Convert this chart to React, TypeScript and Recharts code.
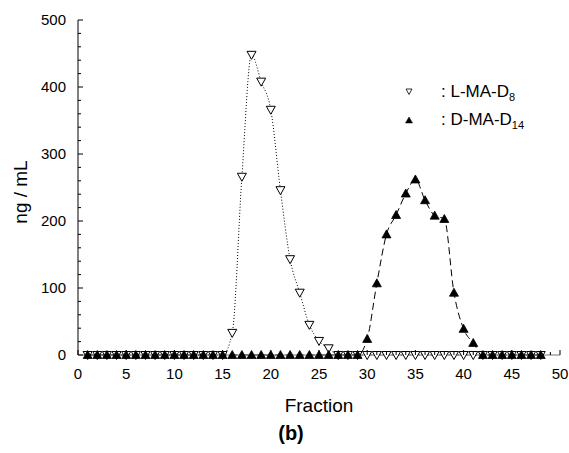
import { LineChart, Line, XAxis, YAxis } from "recharts"

const fractions = [
    1, 2, 3, 4, 5, 6, 7, 8, 9, 10, 11, 12, 13, 14, 15, 16, 17, 18, 19, 20, 21, 22, 23, 24,
    25, 26, 27, 28, 29, 30, 31, 32, 33, 34, 35, 36, 37, 38, 39, 40, 41, 42, 43, 44, 45, 46, 47, 48,
]

// L-MA-D8 (open down triangles, dotted)
const lmaD8 = [
    0, 0, 0, 0, 0, 0, 0, 0, 0, 0, 0, 0, 0, 0, 0,
    33, 266, 448, 408, 366, 246, 143, 93, 45, 21, 10,
    0, 0, 0, 0, 0, 0, 0, 0, 0, 0, 0, 0, 0, 0, 0, 0, 0, 0, 0, 0, 0, 0,
]

// D-MA-D14 (filled up triangles, dashed)
const dmaD14 = [
    0, 0, 0, 0, 0, 0, 0, 0, 0, 0, 0, 0, 0, 0, 0, 0, 0, 0, 0, 0, 0, 0, 0, 0, 0, 0, 0, 0, 0,
    24, 107, 180, 209, 241, 262, 231, 208, 203, 93, 39, 18,
    0, 0, 0, 0, 0, 0, 0,
]

const xTicks = [
    0, 1, 2, 3, 4, 5, 6, 7, 8, 9, 10, 11, 12, 13, 14, 15, 16, 17, 18, 19, 20, 21, 22, 23, 24, 25,
    26, 27, 28, 29, 30, 31, 32, 33, 34, 35, 36, 37, 38, 39, 40, 41, 42, 43, 44, 45, 46, 47, 48, 49, 50,
]
const yTicks = [
    0, 20, 40, 60, 80, 100, 120, 140, 160, 180, 200, 220, 240, 260, 280, 300,
    320, 340, 360, 380, 400, 420, 440, 460, 480, 500,
]

const data = fractions.map((f, i) => ({ fraction: f, l: lmaD8[i], d: dmaD14[i] }))

const FONT = "'Liberation Sans', Arial, Helvetica, sans-serif"

const DownTriangle = ({ cx, cy, index }: any) => (
    <polygon
        key={`l-${index}`}
        points={`${cx - 4.5},${cy - 3.5} ${cx + 4.5},${cy - 3.5} ${cx},${cy + 4.5}`}
        fill="#fff"
        stroke="#000"
        strokeWidth={1}
    />
)

const UpTriangle = ({ cx, cy, index }: any) => (
    <polygon
        key={`d-${index}`}
        points={`${cx - 4.5},${cy + 3.5} ${cx + 4.5},${cy + 3.5} ${cx},${cy - 4.5}`}
        fill="#000"
        stroke="#000"
        strokeWidth={0.8}
    />
)

const XTick = ({ x, y, payload }: any) => {
    const major = payload.value % 5 === 0
    return (
        <g>
            <line x1={x} y1={y} x2={x} y2={y - (major ? 5 : 3)} stroke="#000" strokeWidth={1} />
            {major && (
                <text x={x} y={y + 24} textAnchor="middle" fontSize={15} fill="#000" fontFamily={FONT}>
                    {payload.value}
                </text>
            )}
        </g>
    )
}

const YTick = ({ x, y, payload }: any) => {
    const major = payload.value % 100 === 0
    return (
        <g>
            <line x1={x} y1={y} x2={x + (major ? 5 : 3)} y2={y} stroke="#000" strokeWidth={1} />
            {major && (
                <text x={x - 12} y={y} dy="0.36em" textAnchor="end" fontSize={15} fill="#000" fontFamily={FONT}>
                    {payload.value}
                </text>
            )}
        </g>
    )
}

export default function App() {
    return (
        <div style={{ position: "absolute", left: 0, top: 0, width: 569, height: 453, background: "#fff", fontFamily: FONT }}>
            <LineChart width={569} height={453} data={data} margin={{ top: 20, right: 9, bottom: 0, left: 0 }}>
                <XAxis
                    dataKey="fraction"
                    type="number"
                    domain={[0, 50]}
                    ticks={xTicks}
                    interval={0}
                    height={98}
                    tickSize={0}
                    tickMargin={0}
                    tickLine={false}
                    tick={<XTick />}
                    axisLine={{ stroke: "#777", strokeWidth: 1 }}
                />
                <YAxis
                    type="number"
                    domain={[0, 500]}
                    ticks={yTicks}
                    interval={0}
                    width={78}
                    tickSize={0}
                    tickMargin={0}
                    tickLine={false}
                    tick={<YTick />}
                    axisLine={{ stroke: "#000", strokeWidth: 1 }}
                />
                <Line
                    dataKey="l"
                    type="monotone"
                    stroke="#000"
                    strokeWidth={1}
                    strokeDasharray="1 2"
                    dot={(p: any) => <DownTriangle {...p} key={`l-${p.index}`} />}
                    isAnimationActive={false}
                />
                <Line
                    dataKey="d"
                    type="monotone"
                    stroke="#000"
                    strokeWidth={1}
                    strokeDasharray="7 4"
                    dot={(p: any) => <UpTriangle {...p} key={`d-${p.index}`} />}
                    isAnimationActive={false}
                />
            </LineChart>
            <svg width={569} height={453} style={{ position: "absolute", left: 0, top: 0, pointerEvents: "none" }}>
                <text
                    x={0}
                    y={0}
                    transform="translate(27,192) rotate(-90)"
                    textAnchor="middle"
                    fontSize={19}
                    fontFamily={FONT}
                    fill="#000"
                >
                    ng / mL
                </text>
                <text x={319} y={412} textAnchor="middle" fontSize={19} fontFamily={FONT} fill="#000">
                    Fraction
                </text>
                <text x={291} y={440} textAnchor="middle" fontSize={20} fontWeight="bold" fontFamily={FONT} fill="#000">
                    (b)
                </text>
                <polygon points="406,89 412,89 409,94.5" fill="#fff" stroke="#000" strokeWidth={0.8} />
                <text x={441} y={97} fontSize={17} fontFamily={FONT} fill="#000">
                    : L-MA-D<tspan fontSize={11} dy={4}>8</tspan>
                </text>
                <polygon points="405.5,123 412.5,123 409,117" fill="#000" stroke="#000" strokeWidth={0.5} />
                <text x={441} y={125} fontSize={17} fontFamily={FONT} fill="#000">
                    : D-MA-D<tspan fontSize={11} dy={4}>14</tspan>
                </text>
            </svg>
        </div>
    )
}
